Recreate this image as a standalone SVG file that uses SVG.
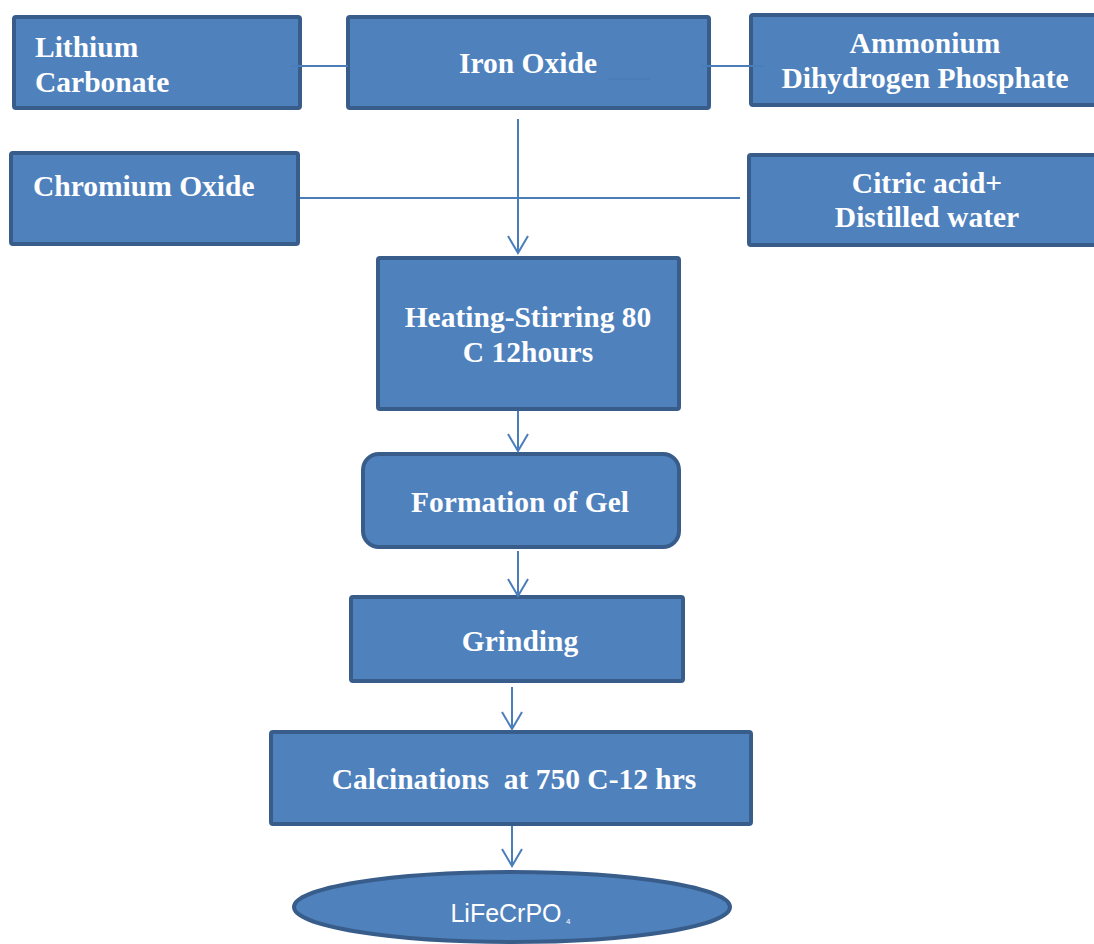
<svg xmlns="http://www.w3.org/2000/svg" width="1094" height="944" viewBox="0 0 1094 944">
<style>
.box{fill:#4F81BD;stroke:#385D8A;stroke-width:4}
.t{font-family:"Liberation Serif","Times New Roman",serif;font-weight:bold;font-size:29.5px;fill:#FFFFFF}
.c{text-anchor:middle}
.s{font-family:"Liberation Sans",Arial,sans-serif;font-size:25px;fill:#FFFFFF;text-anchor:middle}
.ln{stroke:#4A7EBB;stroke-width:2;fill:none}
</style>
<defs>
<marker id="arr" markerUnits="userSpaceOnUse" markerWidth="24" markerHeight="24" viewBox="0 0 24 24" refX="18" refY="11" orient="auto">
<path d="M1,1 L18,11 L1,21" fill="none" stroke="#4A7EBB" stroke-width="2"/>
</marker>
</defs>
<rect width="1094" height="944" fill="#FFFFFF"/>
<g id="lithium-carbonate">
<rect class="box" x="14" y="17" width="286" height="91" rx="2"/>
<text class="t" x="35" y="57">Lithium</text>
<text class="t" x="35" y="92">Carbonate</text>
</g>
<g id="iron-oxide">
<rect class="box" x="348" y="17" width="361" height="91" rx="2"/>
<text class="t c" x="528" y="73">Iron Oxide</text>
</g>
<g id="ammonium-phosphate">
<rect class="box" x="751" y="15" width="350" height="90" rx="2"/>
<text class="t c" x="925" y="53">Ammonium</text>
<text class="t c" x="925" y="88">Dihydrogen Phosphate</text>
</g>
<g id="chromium-oxide">
<rect class="box" x="11" y="153" width="287" height="91" rx="2"/>
<text class="t" x="33" y="196">Chromium Oxide</text>
</g>
<g id="citric-acid">
<rect class="box" x="749" y="155" width="352" height="90" rx="2"/>
<text class="t c" x="927" y="193">Citric acid+</text>
<text class="t c" x="927" y="227">Distilled water</text>
</g>
<g id="heating-stirring">
<rect class="box" x="378" y="258" width="301" height="151" rx="2"/>
<text class="t c" x="528" y="327">Heating-Stirring 80</text>
<text class="t c" x="528" y="362">C 12hours</text>
</g>
<g id="formation-of-gel">
<rect class="box" x="363" y="454" width="316" height="93" rx="16"/>
<text class="t c" x="520" y="512">Formation of Gel</text>
</g>
<g id="grinding">
<rect class="box" x="351" y="597" width="332" height="84" rx="2"/>
<text class="t c" x="520" y="651">Grinding</text>
</g>
<g id="calcinations">
<rect class="box" x="271" y="732" width="480" height="92" rx="2"/>
<text class="t c" x="514" y="789" xml:space="preserve">Calcinations  at 750 C-12 hrs</text>
</g>
<g id="lifecrpo4">
<ellipse class="box" cx="512" cy="907" rx="218" ry="35"/>
<text class="s" x="506" y="922">LiFeCrPO</text>
<text x="566" y="924" font-family="Liberation Sans,Arial,sans-serif" font-size="8" fill="#FFFFFF">4</text>
</g>
<g id="connectors">
<line class="ln" x1="290" y1="66" x2="348" y2="66"/>
<line class="ln" x1="702" y1="66" x2="765" y2="66"/>
<line class="ln" x1="608" y1="79" x2="650" y2="79"/>
<line class="ln" x1="300" y1="198" x2="740" y2="198"/>
<line class="ln" x1="518" y1="119" x2="518" y2="253" marker-end="url(#arr)"/>
<line class="ln" x1="518" y1="411" x2="518" y2="451" marker-end="url(#arr)"/>
<line class="ln" x1="518" y1="551" x2="518" y2="596" marker-end="url(#arr)"/>
<line class="ln" x1="512" y1="687" x2="512" y2="729" marker-end="url(#arr)"/>
<line class="ln" x1="512" y1="826" x2="512" y2="866" marker-end="url(#arr)"/>
</g>
</svg>
